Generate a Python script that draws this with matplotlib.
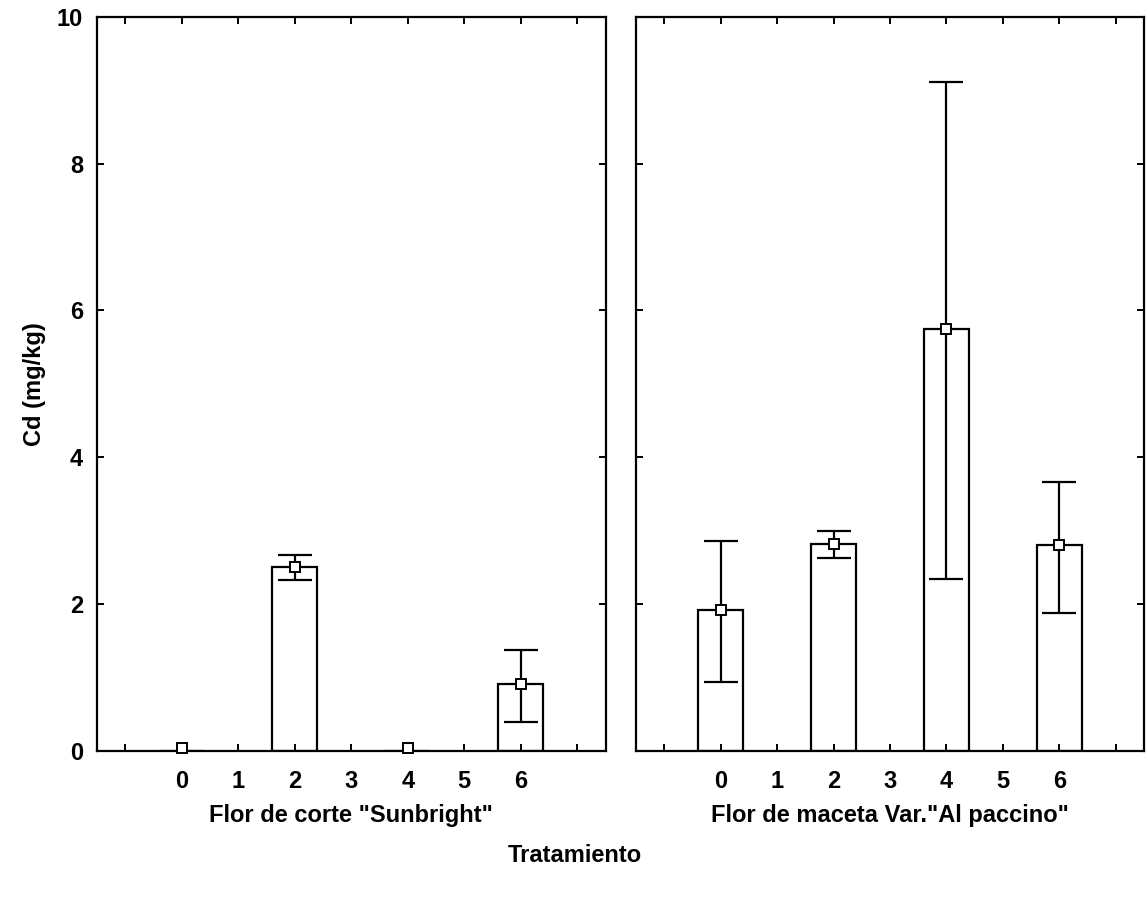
import matplotlib
matplotlib.use("Agg")
import matplotlib.pyplot as plt
import numpy as np

plt.rcParams['font.family'] = ['Liberation Sans', 'DejaVu Sans']
plt.rcParams['font.weight'] = 'bold'

treatments = [0, 2, 4, 6]
tick_positions = [-1, 0, 1, 2, 3, 4, 5, 6, 7]
tick_labels = ["", "0", "1", "2", "3", "4", "5", "6", ""]

left_title = 'Flor de corte "Sunbright"'
left_mean = [0.04, 2.50, 0.04, 0.90]
left_upper = [0.04, 2.66, 0.04, 1.37]
left_lower = [0.04, 2.32, 0.04, 0.39]

right_title = 'Flor de maceta Var."Al paccino"'
right_mean = [1.92, 2.81, 5.75, 2.80]
right_upper = [2.85, 2.99, 9.12, 3.66]
right_lower = [0.93, 2.62, 2.34, 1.87]

fig = plt.figure(figsize=(11.47, 8.99), dpi=100)
W, H = 1147, 899
ax1 = fig.add_axes([97/W, 1-750.5/H, (605.5-97)/W, (750.5-17)/H])
ax2 = fig.add_axes([636/W, 1-750.5/H, (1144-636)/W, (750.5-17)/H])

fs = 17
lw = 1.6
for ax, title, mean, up, lo in [(ax1, left_title, left_mean, left_upper, left_lower),
                                (ax2, right_title, right_mean, right_upper, right_lower)]:
    x = np.array(treatments, dtype=float)
    mean = np.array(mean); up = np.array(up); lo = np.array(lo)
    bar_h = np.where(mean > 0.1, mean, 0.0)
    ax.bar(x, bar_h, width=0.8, color='none', edgecolor='black', linewidth=lw, zorder=2)
    has_err = (up - lo) > 0
    ax.errorbar(x[has_err], mean[has_err],
                yerr=[mean[has_err] - lo[has_err], up[has_err] - mean[has_err]],
                fmt='none', ecolor='black', elinewidth=lw,
                capsize=12, capthick=lw, zorder=3)
    ax.plot(x, mean, 's', ms=6.5, mfc='white', mec='black', mew=1.4, zorder=4,
            clip_on=False)
    ax.set_xlim(-1.5, 7.5)
    ax.set_ylim(0, 10)
    ax.set_xticks(tick_positions)
    ax.set_xticklabels(tick_labels, fontsize=fs, fontweight='bold')
    ax.set_yticks([0, 2, 4, 6, 8, 10])
    ax.tick_params(direction='in', top=True, right=True, length=5, width=1.4)
    ax.tick_params(axis='x', pad=14)
    ax.set_xlabel(title, fontsize=fs, fontweight='bold', labelpad=8)
    for s in ax.spines.values():
        s.set_linewidth(1.6)

ax1.set_yticklabels(["0", "2", "4", "6", "8", "10"], fontsize=fs, fontweight='bold')
ax2.set_yticklabels([])
ax1.tick_params(axis='y', pad=10)
ax1.set_ylabel("Cd (mg/kg)", fontsize=fs, fontweight='bold', labelpad=8)
fig.text(575/W, 1-855/H, "Tratamiento", ha='center', va='center', fontsize=fs, fontweight='bold')

fig.savefig("out.png", dpi=100)
